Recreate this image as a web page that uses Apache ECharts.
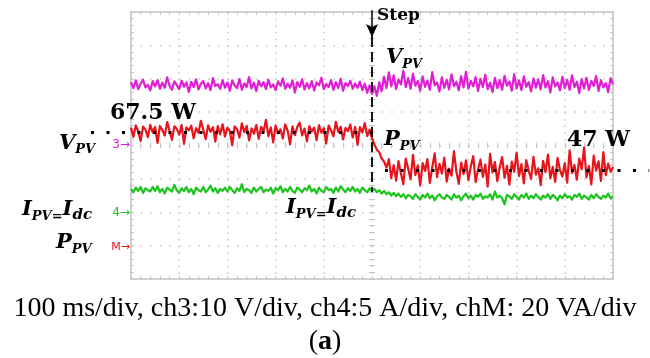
<!DOCTYPE html>
<html>
<head>
<meta charset="utf-8">
<script src="https://cdn.jsdelivr.net/npm/echarts@6/dist/echarts.min.js"></script>
<style>
html,body{margin:0;padding:0;background:#fff;}
#c{width:650px;height:358px;}
</style>
</head>
<body>
<div id="c"></div>
<script>
// ---- time base ----
const sampleStepMs = 5;          // one sample every 5 ms, 100 ms/div
const timeMinMs = 0, timeMaxMs = 1000, timeDivMs = 100;
const stepTimeMs = 500;

// ---- channel settings (scale per division, ground marker in divisions from bottom) ----
const ch3 = { perDiv: 10, groundDiv: 4.01 };   // V_PV, 10 V/div
const ch4 = { perDiv: 5,  groundDiv: 1.98 };   // I_PV = I_dc, 5 A/div
const chM = { perDiv: 20, groundDiv: 0.96 };   // P_PV, 20 VA/div

// ---- V_PV (V) ----
const vPV = [
18.9,17.1,19.4,16.8,18.5,19.6,17.3,18.1,16.4,19.2,
17.6,19.5,16.9,18.7,17.2,20.3,17.8,16.6,19.1,18.0,
16.8,19.3,17.5,18.8,15.9,19.0,17.4,19.7,16.7,18.4,
19.2,17.0,18.6,16.5,20.1,17.7,18.3,16.9,19.5,17.2,
18.8,16.3,19.4,17.9,17.1,19.8,16.6,18.5,17.4,20.4,
17.0,18.7,16.2,19.3,17.6,18.9,16.8,19.6,17.3,18.2,
16.5,19.1,17.8,20.0,16.9,18.4,17.2,19.4,15.8,18.9,
17.5,19.7,16.7,18.6,17.0,19.2,16.4,18.8,17.9,20.2,
16.8,18.3,17.4,19.5,16.6,18.9,17.1,19.9,16.3,18.6,
17.7,19.3,16.9,18.5,17.2,19.0,16.5,18.4,15.7,17.9,
15.4,17.6,14.8,18.9,16.2,20.5,17.1,21.8,17.6,20.9,
16.8,19.7,18.2,22.3,17.4,20.1,16.9,21.4,17.8,19.2,
16.3,20.6,17.5,19.4,16.6,21.9,17.9,18.8,16.1,20.3,
17.2,19.6,16.7,21.2,17.7,19.0,16.4,20.7,17.3,22.0,
16.9,19.3,17.6,20.4,16.2,19.9,17.4,21.1,16.8,18.7,
15.9,20.2,17.1,19.5,16.6,20.8,17.8,19.1,16.3,21.3,
17.0,19.4,16.5,20.6,17.5,18.9,16.1,20.0,17.2,19.7,
16.7,21.0,17.3,19.2,15.8,20.3,17.6,18.8,16.4,20.5,
17.1,19.6,16.6,20.9,17.4,19.0,15.6,19.8,17.0,20.2,
16.5,19.3,17.7,20.7,16.2,19.5,17.3,18.6,15.9,20.1,
18.2];

// ---- I_PV = I_dc (A) ----
const iPV = [
3.6,3.1,3.8,3.3,3.9,3.0,3.7,3.4,3.2,3.9,
3.3,4.0,3.1,3.6,2.9,3.8,3.5,3.2,4.2,3.4,
3.0,3.7,3.3,3.9,3.1,3.6,2.8,3.8,3.4,3.2,
3.9,3.1,3.5,4.1,3.2,3.7,3.0,3.6,3.3,3.8,
3.2,3.9,3.4,3.0,3.7,3.3,4.3,3.1,3.6,3.4,
3.0,3.8,3.2,3.6,3.9,3.1,3.5,3.3,3.8,2.9,
3.7,3.4,4.0,3.1,3.6,3.2,3.9,3.3,3.0,3.8,
3.5,3.1,3.7,3.4,4.1,3.2,3.6,2.9,3.8,3.3,
3.1,3.9,3.4,3.6,3.0,3.8,3.2,4.0,3.5,3.1,
3.7,3.3,3.9,3.2,3.6,3.0,3.8,3.4,3.1,3.7,
3.3,3.6,3.1,3.4,2.9,3.3,2.8,3.1,2.6,3.0,
2.5,2.9,2.4,2.8,2.2,2.7,2.5,2.1,2.8,2.4,
2.0,2.7,2.3,2.9,2.2,2.6,1.9,2.5,2.8,2.3,
2.1,2.7,2.4,2.0,2.8,2.3,2.6,1.9,2.5,2.9,
2.2,2.6,2.0,2.7,2.4,2.9,2.1,2.5,2.3,2.8,
2.0,3.2,2.3,2.6,2.2,1.3,2.7,2.5,2.1,2.8,
2.4,2.0,2.7,2.3,2.9,2.1,2.6,2.2,2.8,2.4,
2.0,2.6,2.3,2.8,2.1,2.7,2.4,1.9,2.6,2.2,
2.8,2.3,2.5,2.0,2.7,2.4,2.9,2.1,2.6,2.3,
2.0,2.7,2.2,2.8,2.4,2.1,2.6,2.3,2.9,2.2,
2.5];

// ---- P_PV (W) ----
const pPV = [
71.5,66.0,72.8,69.2,63.5,72.1,70.4,65.8,73.2,68.7,
71.9,62.4,72.5,70.1,66.7,74.8,69.5,64.2,72.3,70.8,
67.3,73.0,61.8,71.6,69.9,72.7,65.1,71.2,68.4,75.6,
70.2,64.6,72.9,69.0,71.8,63.1,72.4,67.5,73.5,66.2,
71.4,69.6,60.9,72.2,70.7,65.5,74.1,68.8,72.6,63.9,
71.0,67.9,73.1,64.8,72.0,69.3,76.2,66.4,71.7,62.7,
72.8,68.1,70.5,65.0,73.4,69.7,61.5,72.3,67.0,71.9,
74.5,66.8,70.9,63.3,72.4,69.1,71.5,64.0,73.0,68.5,
71.2,62.0,72.7,70.0,66.3,75.0,68.9,72.1,64.4,71.3,
69.4,73.3,65.6,72.0,61.2,71.8,68.6,74.2,66.5,70.3,
65.0,61.5,58.3,56.8,53.0,51.2,47.5,52.6,41.3,49.0,
39.8,51.4,44.2,37.6,53.0,46.8,40.5,55.2,43.1,48.9,
36.9,50.3,45.5,52.7,38.4,47.6,56.1,41.9,49.8,44.0,
53.6,39.2,47.0,42.8,57.4,45.3,37.8,50.6,43.7,51.9,
40.1,48.2,54.5,38.9,46.4,52.3,42.0,49.3,36.2,55.8,
44.6,50.9,39.5,47.8,53.9,41.4,48.6,37.3,51.1,45.0,
56.5,42.5,49.6,38.1,52.0,45.9,40.7,54.0,43.4,47.2,
37.0,51.6,44.8,55.3,41.1,48.0,39.0,53.4,46.1,42.2,
50.2,38.6,57.9,44.4,49.1,40.3,52.9,46.6,59.5,41.7,
48.4,37.5,54.7,45.7,51.3,39.6,56.9,43.0,50.0,45.1,
47.9];

// ---- reference power levels (W) and their labels ----
const powerLevelsW = [69.0, 46.2];
const powerLevelLabels = ['67.5 W', '47 W'];
const powerLevelSpansMs = [[-83, 500], [527, 1075]];

// ---- layout ----
const G = { left: 131, top: 12, width: 482, height: 267 };
const gridGray = '#c6c6c6';
const cMag = '#e01ed4', cRed = '#e8141c', cGreen = '#1ec41e';
const traceWidth = 2.2;

const toDiv = (v, ch) => ch.groundDiv + v / ch.perDiv;
const tMs = vPV.map((_, i) => i * sampleStepMs);
const sV = tMs.map((t, i) => [t, toDiv(vPV[i], ch3)]);
const sI = tMs.map((t, i) => [t, toDiv(iPV[i], ch4)]);
const sP = tMs.map((t, i) => [t, toDiv(pPV[i], chM)]);

function tickCfg(inside) {
  return {
    axisTick: { show: true, inside: inside, length: 3, lineStyle: { color: gridGray, width: 1 } },
    minorTick: { show: true, splitNumber: 5, length: 3, lineStyle: { color: gridGray, width: 1 } }
  };
}
function xAx(extra, inside) {
  return Object.assign({
    type: 'value', min: timeMinMs, max: timeMaxMs, interval: timeDivMs,
    axisLabel: { show: false }, axisLine: { show: false, onZero: false },
    splitLine: { show: false }
  }, tickCfg(inside), extra);
}
function yAx(extra, inside) {
  return Object.assign({
    type: 'value', min: 0, max: 8, interval: 1,
    axisLabel: { show: false }, axisLine: { show: false, onZero: false },
    splitLine: { show: false }
  }, tickCfg(inside), extra);
}
function trace(name, data, color, z) {
  return { name: name, type: 'line', data: data, showSymbol: false, symbol: 'none',
           lineStyle: { color: color, width: traceWidth, join: 'round' }, xAxisIndex: 0, yAxisIndex: 0, z: z };
}

const chart = echarts.init(document.getElementById('c'), null, { renderer: 'canvas' });

chart.setOption({
  animation: false,
  backgroundColor: '#fff',
  grid: { left: G.left, top: G.top, width: G.width, height: G.height, show: true,
          borderColor: '#d2d2d2', borderWidth: 2, backgroundColor: 'transparent' },
  xAxis: [
    xAx({ position: 'bottom', splitLine: { show: true, lineStyle: { color: gridGray, width: 1.5, type: [1.5, 5.18] } } }, true),
    xAx({ position: 'top' }, true),
    xAx({ position: 'bottom', offset: -G.height / 2 }, true),
    xAx({ position: 'bottom', offset: -G.height / 2 }, false)
  ],
  yAxis: [
    yAx({ position: 'left', splitLine: { show: true, lineStyle: { color: gridGray, width: 1.5, type: [1.5, 8.14] } } }, true),
    yAx({ position: 'right' }, true),
    yAx({ position: 'left', offset: -G.width / 2 }, true),
    yAx({ position: 'left', offset: -G.width / 2 }, false)
  ],
  series: [
    trace('V_PV', sV, cMag, 3),
    trace('I_PV', sI, cGreen, 3),
    trace('P_PV', sP, cRed, 4)
  ]
});

// ---- positions derived from the axes ----
const px = (t, d) => chart.convertToPixel({ gridIndex: 0 }, [t, d]);
const gy3 = px(0, ch3.groundDiv)[1], gy4 = px(0, ch4.groundDiv)[1], gyM = px(0, chM.groundDiv)[1];
const stepX = px(stepTimeMs, 0)[0];

function levelLine(k) {
  const a = px(powerLevelSpansMs[k][0], toDiv(powerLevelsW[k], chM));
  const b = px(powerLevelSpansMs[k][1], toDiv(powerLevelsW[k], chM));
  return [{ x: a[0], y: a[1], symbol: 'none', lineStyle: { color: '#000', width: 3, type: [3, 12.5] } },
          { x: b[0], y: b[1], symbol: 'none' }];
}
const arrTop = px(stepTimeMs, 8.05), arrTip = px(stepTimeMs, 7.25), dashEnd = px(stepTimeMs, 2.61);

// ---- text annotations ----
const LF = 'DejaVu Serif';
const richLab = {
  b: { fontFamily: LF, fontWeight: 'bold', fontStyle: 'italic', fontSize: 21, lineHeight: 26, fill: '#000' },
  s: { fontFamily: LF, fontWeight: 'bold', fontStyle: 'italic', fontSize: 13, lineHeight: 16, verticalAlign: 'bottom', fill: '#000' },
  d: { fontFamily: LF, fontWeight: 'bold', fontStyle: 'italic', fontSize: 15, lineHeight: 17, verticalAlign: 'bottom', fill: '#000' }
};
function lab(text, x, y) {
  return { type: 'text', x: x, y: y, z: 100, silent: true,
           style: { text: text, rich: richLab, align: 'left', verticalAlign: 'middle' } };
}
function plain(text, x, y, font, color, align) {
  return { type: 'text', x: x, y: y, z: 100, silent: true,
           style: { text: text, font: font, fill: color || '#000', align: align || 'left', verticalAlign: 'middle' } };
}
const capFont = '28px "Liberation Serif"';

chart.setOption({
  series: [{}, {}, {
    markLine: {
      silent: true, animation: false, z: 20, symbol: ['none', 'none'], label: { show: false },
      data: [
        levelLine(0),
        levelLine(1),
        [{ x: arrTop[0], y: arrTop[1], symbol: 'none', lineStyle: { color: '#000', width: 1.5, type: 'solid' } },
         { x: arrTip[0], y: arrTip[1], symbol: 'arrow', symbolSize: [9, 13] }],
        [{ x: arrTip[0], y: arrTip[1], symbol: 'none', lineStyle: { color: '#000', width: 1.8, type: [10, 5] } },
         { x: dashEnd[0], y: dashEnd[1], symbol: 'none' }]
      ]
    }
  }],
  graphic: [
    lab('{b|V}{s|PV}', 59, gy3 - 2),
    lab('{b|I}{s|PV=}{b|I}{d|dc}', 22, gy4 - 3),
    lab('{b|P}{s|PV}', 56, gyM - 4),
    plain('3\u2192', G.left - 1, gy3, '12px "DejaVu Sans"', cMag, 'right'),
    plain('4\u2192', G.left - 1, gy4, '12px "DejaVu Sans"', cGreen, 'right'),
    plain('M\u2192', G.left - 1, gyM, '11px "DejaVu Sans"', cRed, 'right'),
    plain('Step', stepX + 5, 16, 'bold 17px "DejaVu Serif"', '#000'),
    lab('{b|V}{s|PV}', stepX + 14, 58),
    lab('{b|P}{s|PV}', stepX + 12, 140),
    lab('{b|I}{s|PV=}{b|I}{d|dc}', stepX - 86, 208),
    plain(powerLevelLabels[0], 110, 113, 'bold 22px "DejaVu Serif"', '#000'),
    plain(powerLevelLabels[1], 567, 140, 'bold 22px "DejaVu Serif"', '#000'),
    plain('100 ms/div, ch3:10 V/div, ch4:5 A/div, chM: 20 VA/div', 325, 309, capFont, '#000', 'center'),
    { type: 'text', x: 325, y: 342, z: 100, silent: true,
      style: { text: '{n|(}{a|a}{n|)}', align: 'center', verticalAlign: 'middle',
               rich: { n: { fontFamily: 'Liberation Serif', fontSize: 28, fill: '#000' },
                       a: { fontFamily: 'Liberation Serif', fontSize: 28, fontWeight: 'bold', fill: '#000' } } } }
  ]
});
</script>
</body>
</html>
